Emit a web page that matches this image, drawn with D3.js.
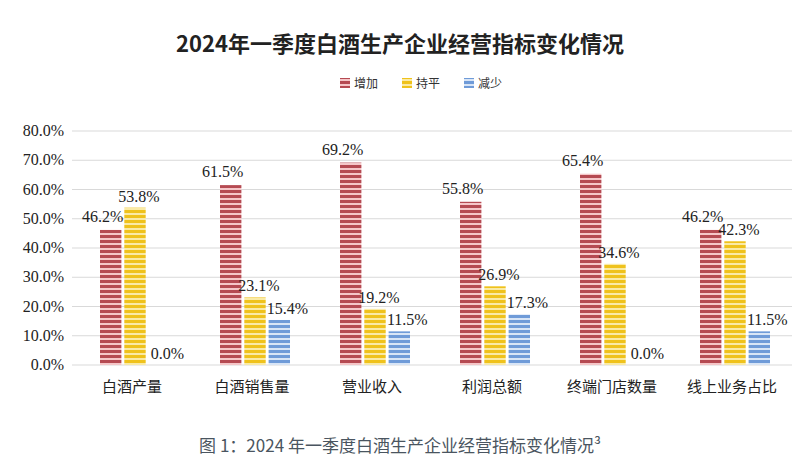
<!DOCTYPE html><html><head><meta charset="utf-8"><script src="https://cdn.jsdelivr.net/npm/d3@7"></script>
<style>body{margin:0;background:#fff}</style></head><body><svg id="c" width="800" height="471"></svg><script>
const categories=["白酒产量","白酒销售量","营业收入","利润总额","终端门店数量","线上业务占比"];
const seriesNames=["增加","持平","减少"];
const increase=[46.2,61.5,69.2,55.8,65.4,46.2];
const flat=[53.8,23.1,19.2,26.9,34.6,42.3];
const decrease=[0.0,15.4,11.5,17.3,0.0,11.5];
const yTicks=[0,10,20,30,40,50,60,70,80];
const svg=d3.select("#c");
const defs=svg.append("defs");
const pal=[["#b54a52","#f5c6c8"],["#efc21c","#faeaa5"],["#6f9bd8","#d8e5f6"]];
pal.forEach((p,i)=>{const pt=defs.append("pattern").attr("id","p"+i).attr("width",6).attr("height",5).attr("patternUnits","userSpaceOnUse");
pt.append("rect").attr("width",6).attr("height",5).attr("fill",p[1]);pt.append("rect").attr("width",6).attr("height",3).attr("fill",p[0]);});
const x=d3.scaleBand().domain(categories).range([72,792]);
const y=d3.scaleLinear().domain([0,80]).range([365,131]);
const xs=d3.scaleBand().domain([0,1,2]).range([28,98]).paddingInner(0.12);
svg.append("text").attr("x",400).attr("y",52).attr("text-anchor","middle").attr("font-family","Noto Sans CJK SC").attr("font-weight","bold").attr("font-size",22).attr("fill","#222").text("2024年一季度白酒生产企业经营指标变化情况");
const lg=svg.append("g").attr("transform","translate(340,86)");
seriesNames.forEach((s,i)=>{const g=lg.append("g").attr("transform",`translate(${i*62},0)`);
g.append("rect").attr("x",0).attr("y",-8).attr("width",10).attr("height",10).attr("fill",`url(#p${i})`);
g.append("text").attr("x",14).attr("y",2).attr("font-family","Noto Sans CJK SC").attr("font-size",12).attr("fill","#333").text(s);});
svg.append("g").selectAll("line").data(yTicks).join("line").attr("x1",72).attr("x2",792).attr("y1",d=>y(d)).attr("y2",d=>y(d)).attr("stroke","#d9d9d9");
svg.append("g").selectAll("text").data(yTicks).join("text").attr("x",64).attr("y",d=>y(d)+5).attr("text-anchor","end").attr("font-family","Liberation Serif").attr("font-size",16).attr("fill","#222").text(d=>d.toFixed(1)+"%");
const series=[increase,flat,decrease];
series.forEach((arr,si)=>{
const g=svg.append("g");
g.selectAll("rect").data(arr).join("rect").attr("x",(d,i)=>x(categories[i])+xs(si)).attr("width",xs.bandwidth()).attr("y",d=>y(d)).attr("height",d=>y(0)-y(d)).attr("fill",`url(#p${si})`);
g.selectAll("text").data(arr).join("text").attr("x",(d,i)=>x(categories[i])+xs(si)+xs.bandwidth()/2+(si==0?-8:si==1?4:8)).attr("y",d=>y(d)-(si==0?8:6)-(si==1&&d<1?0:0)).attr("text-anchor","middle").attr("font-family","Liberation Serif").attr("font-size",16).attr("fill","#222").text(d=>d.toFixed(1)+"%");
});
svg.append("g").selectAll("text").data(categories).join("text").attr("x",d=>x(d)+x.bandwidth()/2).attr("y",392).attr("text-anchor","middle").attr("font-family","Noto Sans CJK SC").attr("font-size",15).attr("fill","#222").text(d=>d);
svg.append("text").attr("x",400).attr("y",452).attr("text-anchor","middle").attr("font-family","Noto Sans CJK SC").attr("font-size",17).attr("fill","#4a5560").text("图 1：2024 年一季度白酒生产企业经营指标变化情况³");
</script></body></html>
